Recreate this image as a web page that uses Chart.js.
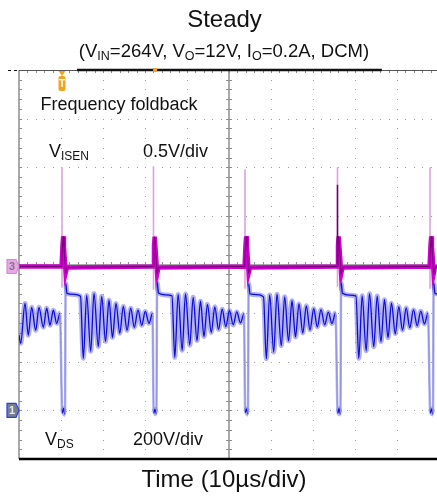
<!DOCTYPE html>
<html>
<head>
<meta charset="utf-8">
<script src="https://cdn.jsdelivr.net/npm/chart.js@4.4.1/dist/chart.umd.min.js"></script>
<style>
  html, body { margin: 0; padding: 0; background: #fff; overflow: hidden; }
  #wrap { position: relative; width: 441px; height: 498px; }
</style>
</head>
<body>
<div id="wrap"><canvas id="scope"></canvas></div>
<script>
// time in µs (10 µs/div), VDS in volts (200 V/div), VISEN in volts (0.5 V/div)
const switchTimes = [10.24, 32.02, 53.81, 75.83, 97.86];
const isenSpikeTop = [1.0, 1.01, 0.98, 1.0, 1.0];
const isenSpikeBottom = [-0.24, -0.26, -0.25, -0.23, -0.25];

const isenTrace = [
  [0, -0.02],
  [10.14, -0.02], [10.36, 0.2], [10.52, 0.29], [10.7, 0.18], [10.92, 0.04], [11.1, -0.09], [11.45, -0.03],
  [31.92, -0.02], [32.14, 0.19], [32.3, 0.285], [32.48, 0.18], [32.7, 0.04], [32.88, -0.1], [33.23, -0.03],
  [53.71, -0.02], [53.93, 0.2], [54.09, 0.29], [54.27, 0.19], [54.49, 0.05], [54.67, -0.09], [55.02, -0.03],
  [75.73, -0.02], [75.95, 0.2], [76.11, 0.29], [76.29, 0.18], [76.51, 0.05], [76.69, -0.1], [77.04, -0.03],
  [97.76, -0.02], [97.98, 0.2], [98.14, 0.29], [98.32, 0.18], [98.54, 0.05], [98.72, -0.1], [99.07, -0.03],
  [100, -0.02]
];

const vdsLead = [
  [0, 310], [0.4, 276], [1.43, 440], [2.21, 309], [3.02, 424], [3.98, 329], [4.76, 424],
  [5.79, 342], [6.6, 420], [7.38, 350], [8.17, 412], [8.98, 358], [9.76, 399]
];
const vdsCycle1 = [
  [10.29, -12], [10.6, 8], [10.95, -16], [11.1, 523], [11.43, 481], [13.1, 477], [14.64, 469],
  [15.31, 214], [16.12, 473], [17.07, 243], [17.86, 481], [18.88, 263], [19.69, 469], [20.6, 284],
  [21.43, 453], [22.26, 300], [23.1, 440], [24.0, 317], [24.84, 428], [25.72, 329], [26.6, 420],
  [27.45, 342], [28.34, 412], [29.22, 350], [30.07, 407], [30.95, 358], [31.79, 399]
];
const vdsCycle2 = [
  [32.07, -12], [32.38, 4], [32.73, -14], [32.88, 527], [33.21, 483], [34.88, 475], [36.42, 471],
  [37.09, 218], [37.9, 477], [38.85, 247], [39.64, 479], [40.66, 268], [41.47, 465], [42.38, 287],
  [43.21, 449], [44.04, 304], [44.88, 436], [45.78, 320], [46.62, 426], [47.5, 333], [48.38, 416],
  [49.23, 345], [50.12, 410], [51.0, 352], [51.85, 405], [52.73, 360], [53.57, 397]
];
const vdsCycle3 = [
  [53.86, -10], [54.17, 6], [54.52, -15], [54.67, 521], [55.0, 479], [56.67, 476], [58.21, 467],
  [58.88, 212], [59.69, 475], [60.64, 240], [61.43, 478], [62.45, 266], [63.26, 467], [64.17, 286],
  [65.0, 451], [65.83, 302], [66.67, 438], [67.57, 318], [68.41, 430], [69.29, 331], [70.17, 418],
  [71.02, 343], [71.91, 414], [72.79, 352], [73.64, 404], [74.52, 357], [75.36, 401]
];
const vdsCycle4 = [
  [75.88, -13], [76.19, 7], [76.54, -15], [76.69, 525], [77.02, 482], [78.69, 474], [80.23, 470],
  [80.9, 214], [81.71, 471], [82.66, 245], [83.45, 480], [84.47, 262], [85.28, 470], [86.19, 283],
  [87.02, 455], [87.85, 299], [88.69, 441], [89.59, 315], [90.43, 427], [91.31, 330], [92.19, 421],
  [93.04, 340], [93.93, 413], [94.81, 348], [95.66, 408], [96.54, 356], [97.38, 400]
];
const vdsTail = [
  [97.91, -12], [98.22, 6], [98.57, -15], [98.72, 524], [99.05, 481], [100, 478]
];

const toXY = pts => pts.map(([x, y]) => ({ x, y }));
const vdsPoints = toXY([].concat(vdsLead, vdsCycle1, vdsCycle2, vdsCycle3, vdsCycle4, vdsTail));
const isenPoints = toXY(isenTrace);

const spikePoints = [];
switchTimes.forEach((t, i) => {
  spikePoints.push({ x: t, y: isenSpikeBottom[i] }, { x: t, y: isenSpikeTop[i] }, { x: t, y: null });
});
const darkSpike = [{ x: switchTimes[3], y: 0 }, { x: switchTimes[3], y: 0.82 }];

const FONT = '"Liberation Sans", Arial, sans-serif';
const font = s => s + 'px ' + FONT;

function richText(ctx, parts, x, y, size, subSize, center) {
  let total = 0;
  parts.forEach(([t, sub]) => { ctx.font = font(sub ? subSize : size); total += ctx.measureText(t).width; });
  let cx = center ? x - total / 2 : x;
  parts.forEach(([t, sub]) => {
    ctx.font = font(sub ? subSize : size);
    ctx.fillText(t, cx, sub ? y + 3 : y);
    cx += ctx.measureText(t).width;
  });
}

const steep = c => Math.abs(c.p1.parsed.y - c.p0.parsed.y) > 250 && Math.abs(c.p1.parsed.x - c.p0.parsed.x) < 0.6;

const graticule = {
  id: 'graticule',
  beforeDatasetsDraw(chart) {
    const { ctx, chartArea: a, scales } = chart;
    const xs = scales.x, ys = scales.yIS;
    const gx = i => Math.round(xs.getPixelForValue(i * 10));
    const gy = k => Math.round(ys.getPixelForValue(2 - k * 0.5));
    ctx.save();
    ctx.fillStyle = '#a0a0a0';
    // dotted divisions
    for (let i = 1; i < 10; i++) {
      if (i === 5) continue;
      for (let j = 0; j <= 40; j++) {
        const py = ys.getPixelForValue(2 - j * 0.1);
        ctx.fillRect(gx(i), Math.round(py), 1, 1);
      }
    }
    for (let k = 1; k < 8; k++) {
      if (k === 4) continue;
      for (let j = 0; j <= 50; j++) {
        ctx.fillRect(Math.round(xs.getPixelForValue(j * 2)), gy(k), 1, 1);
      }
    }
    // center cross with minor ticks
    ctx.strokeStyle = '#8e8e8e';
    ctx.lineWidth = 1.5;
    ctx.beginPath();
    ctx.moveTo(gx(5), a.top); ctx.lineTo(gx(5), a.bottom);
    ctx.moveTo(a.left, gy(4)); ctx.lineTo(a.right, gy(4));
    ctx.moveTo(a.left, a.top); ctx.lineTo(a.left, a.bottom);
    ctx.stroke();
    ctx.lineWidth = 1;
    ctx.beginPath();
    for (let j = 1; j < 40; j++) {
      const py = Math.round(ys.getPixelForValue(2 - j * 0.1)) + 0.5;
      ctx.moveTo(gx(5) - 3, py); ctx.lineTo(gx(5) + 3, py);
      ctx.moveTo(a.left, py); ctx.lineTo(a.left + 3, py);
    }
    for (let j = 1; j < 50; j++) {
      const px = Math.round(xs.getPixelForValue(j * 2)) + 0.5;
      ctx.moveTo(px, gy(4) - 3); ctx.lineTo(px, gy(4) + 3);
      ctx.moveTo(px, a.top); ctx.lineTo(px, a.top + 3);
    }
    ctx.stroke();
    // top edge
    ctx.strokeStyle = '#555';
    ctx.lineWidth = 1;
    ctx.beginPath();
    ctx.moveTo(a.left, a.top + 0.5); ctx.lineTo(a.right, a.top + 0.5);
    ctx.stroke();
    ctx.strokeStyle = '#111';
    ctx.lineWidth = 2.5;
    ctx.beginPath();
    ctx.moveTo(xs.getPixelForValue(13.8), a.top); ctx.lineTo(xs.getPixelForValue(86.4), a.top);
    ctx.stroke();
    ctx.lineWidth = 1;
    ctx.setLineDash([3, 3]);
    ctx.beginPath();
    ctx.moveTo(8, a.top + 0.5); ctx.lineTo(a.left, a.top + 0.5);
    ctx.stroke();
    ctx.setLineDash([]);
    // bottom edge
    ctx.strokeStyle = '#000';
    ctx.lineWidth = 2.5;
    ctx.beginPath();
    ctx.moveTo(a.left, a.bottom); ctx.lineTo(a.right + 5, a.bottom);
    ctx.stroke();
    ctx.restore();
  },
  afterDraw(chart) {
    const { ctx, chartArea: a, scales } = chart;
    const xs = scales.x;
    ctx.save();
    ctx.fillStyle = '#111';
    ctx.textBaseline = 'alphabetic';
    ctx.textAlign = 'left';
    ctx.font = font(24);
    ctx.fillText('Steady', 224.5 - ctx.measureText('Steady').width / 2, 27);
    richText(ctx, [['(V', 0], ['IN', 1], ['=264V, V', 0], ['O', 1], ['=12V, I', 0], ['O', 1], ['=0.2A, DCM)', 0]], 224, 57, 18.5, 12.5, true);
    ctx.font = font(18);
    ctx.fillText('Frequency foldback', 40.5, 110);
    ctx.fillText('0.5V/div', 143, 157);
    ctx.fillText('200V/div', 133, 445);
    richText(ctx, [['V', 0], ['ISEN', 1]], 49, 157, 18, 12, false);
    richText(ctx, [['V', 0], ['DS', 1]], 45, 445, 18, 12, false);
    ctx.font = font(24);
    const xl = 'Time (10µs/div)';
    ctx.fillText(xl, 224 - ctx.measureText(xl).width / 2, 487);

    // channel markers
    const marker = (cy, fill, stroke, label, color) => {
      ctx.beginPath();
      ctx.moveTo(7, cy - 7); ctx.lineTo(16, cy - 7); ctx.lineTo(19, cy);
      ctx.lineTo(16, cy + 7); ctx.lineTo(7, cy + 7); ctx.closePath();
      ctx.fillStyle = fill; ctx.fill();
      ctx.strokeStyle = stroke; ctx.lineWidth = 1.2; ctx.stroke();
      ctx.fillStyle = color; ctx.font = 'bold 11px ' + FONT;
      ctx.textAlign = 'center'; ctx.textBaseline = 'middle';
      ctx.fillText(label, 12, cy + 0.5);
    };
    marker(scales.yIS.getPixelForValue(0) + 2, '#e6a8e6', '#d58ad5', '3', '#8a6f8a');
    marker(scales.yDS.getPixelForValue(0), '#77808a', '#2a3cf0', '1', '#e4e8ee');

    // trigger markers
    const tx = xs.getPixelForValue(switchTimes[0]);
    ctx.fillStyle = '#f2a31c';
    ctx.beginPath();
    ctx.moveTo(tx - 3.5, a.top + 1); ctx.lineTo(tx + 3.5, a.top + 1); ctx.lineTo(tx, a.top + 6);
    ctx.closePath(); ctx.fill();
    ctx.beginPath();
    ctx.roundRect(tx - 3.5, a.top + 6, 7, 15, 2);
    ctx.fill();
    ctx.fillStyle = '#fff';
    ctx.font = 'bold 10px ' + FONT;
    ctx.fillText('T', tx, a.top + 14);
    ctx.fillStyle = '#f2a31c';
    ctx.fillRect(xs.getPixelForValue(32.4) - 2, a.top - 2, 4, 4);
    ctx.restore();
  }
};

new Chart(document.getElementById('scope'), {
  type: 'line',
  data: {
    datasets: [
      { data: vdsPoints, yAxisID: 'yDS', order: 1, borderColor: 'rgb(12,12,215)', borderWidth: 1.3,
        cubicInterpolationMode: 'monotone',
        segment: { borderColor: c => steep(c) ? 'rgb(150,150,222)' : undefined } },
      { data: vdsPoints, yAxisID: 'yDS', order: 2, borderColor: 'rgba(115,115,228,0.55)', borderWidth: 5,
        cubicInterpolationMode: 'monotone',
        segment: { borderWidth: c => steep(c) ? 2.5 : undefined } },
      { data: darkSpike, yAxisID: 'yIS', order: 3, borderColor: 'rgb(105,0,105)', borderWidth: 1.5 },
      { data: isenPoints, yAxisID: 'yIS', order: 4, borderColor: 'rgb(120,0,120)', borderWidth: 1 },
      { data: isenPoints, yAxisID: 'yIS', order: 5, borderColor: 'rgb(205,0,205)', borderWidth: 4.5 },
      { data: spikePoints, yAxisID: 'yIS', order: 6, borderColor: 'rgb(226,160,226)', borderWidth: 1.6, spanGaps: false }
    ]
  },
  options: {
    responsive: true,
    maintainAspectRatio: false,
    animation: false,
    layout: { padding: { left: 19, top: 70, right: 2, bottom: 39 } },
    elements: { point: { radius: 0 }, line: { tension: 0 } },
    plugins: { legend: { display: false }, tooltip: { enabled: false } },
    scales: {
      x: { type: 'linear', min: 0, max: 100, display: false },
      yDS: { type: 'linear', min: -200, max: 1400, display: false },
      yIS: { type: 'linear', min: -2, max: 2, display: false }
    }
  },
  plugins: [graticule]
});
</script>
</body>
</html>
